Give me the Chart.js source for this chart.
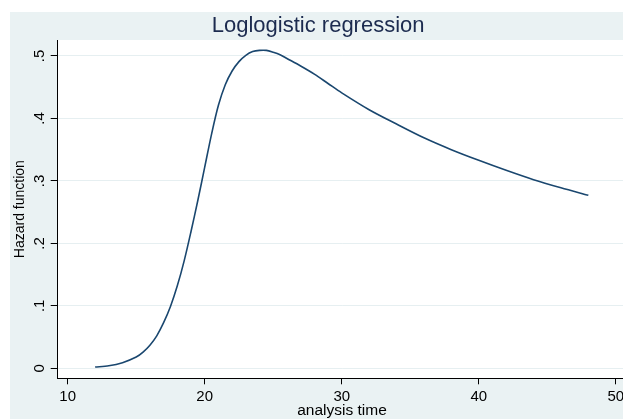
<!DOCTYPE html>
<html>
<head>
<meta charset="utf-8">
<script src="https://cdn.jsdelivr.net/npm/chart.js@4.4.1/dist/chart.umd.min.js"></script>
<style>
  html, body { margin: 0; padding: 0; background: #ffffff; width: 623px; height: 420px; overflow: hidden; }
  #wrap { position: absolute; left: 10px; top: 12px; width: 664px; height: 407px; background: #EAF2F3; }
  canvas { display: block; }
</style>
</head>
<body>
<div id="wrap"><canvas id="c" width="664" height="407"></canvas></div>
<script>
// analysis time (x) and hazard function (y)
const times = [12, 13, 14, 15, 15.5, 16, 16.5, 17, 17.5, 18, 18.5, 19, 19.5, 20, 20.5, 21, 21.5, 22, 22.5, 23, 23.5, 24, 24.5, 25, 25.5, 26, 27, 28, 29, 30, 32, 34, 36, 38, 40, 42, 44, 46, 48];
const hazard = [0.002, 0.004, 0.009, 0.018, 0.026, 0.037, 0.052, 0.073, 0.099, 0.132, 0.172, 0.219, 0.269, 0.322, 0.375, 0.421, 0.454, 0.476, 0.491, 0.501, 0.507, 0.509, 0.509, 0.506, 0.502, 0.496, 0.484, 0.471, 0.456, 0.441, 0.414, 0.391, 0.369, 0.350, 0.333, 0.317, 0.302, 0.289, 0.277];
const xTicks = [10, 20, 30, 40, 50];
const yTicks = [0, 0.1, 0.2, 0.3, 0.4, 0.5];
const yTickLabels = ['0', '.1', '.2', '.3', '.4', '.5'];

const FONT = '"Liberation Sans", Arial, Helvetica, sans-serif';

const plotBg = {
  id: 'plotBg',
  beforeDraw(chart) {
    const a = chart.chartArea, ctx = chart.ctx;
    ctx.save();
    ctx.fillStyle = '#ffffff';
    ctx.fillRect(a.left, a.top, a.right - a.left, a.bottom - a.top);
    ctx.restore();
  }
};

new Chart(document.getElementById('c'), {
  type: 'line',
  data: {
    datasets: [{
      data: times.map((t, i) => ({ x: t, y: hazard[i] })),
      borderColor: '#1A476F',
      borderWidth: 1.6,
      pointRadius: 0,
      fill: false,
      tension: 0.3
    }]
  },
  options: {
    responsive: false,
    animation: false,
    devicePixelRatio: 1,
    layout: { padding: { left: 0, right: 47.7, top: 0, bottom: 0 } },
    plugins: {
      legend: { display: false },
      tooltip: { enabled: false },
      title: {
        display: true,
        text: 'Loglogistic regression',
        color: '#1c2b4f',
        font: { family: FONT, size: 22, weight: 'normal', lineHeight: 1.2 },
        padding: { top: 0.8, bottom: 0.8 }
      }
    },
    scales: {
      x: {
        type: 'linear',
        min: 9.27,
        max: 50.77,
        afterBuildTicks: s => { s.ticks = xTicks.map(v => ({ value: v })); },
        afterFit: s => { s.height = 40.7; },
        border: { display: true, color: '#000000', width: 1 },
        grid: { drawOnChartArea: false, drawTicks: true, tickLength: 6, tickColor: '#000000', lineWidth: 1 },
        ticks: {
          color: '#000000',
          font: { family: FONT, size: 15 },
          padding: 4,
          maxRotation: 0,
          minRotation: 0
        },
        title: {
          display: true,
          text: 'analysis time',
          color: '#000000',
          font: { family: FONT, size: 15.5, lineHeight: 1.1 },
          padding: { top: 0, bottom: 0 }
        }
      },
      y: {
        type: 'linear',
        min: -0.016,
        max: 0.5256,
        afterBuildTicks: s => { s.ticks = yTicks.map(v => ({ value: v })); },
        afterFit: s => { s.width = 47.7; },
        border: { display: true, color: '#000000', width: 1 },
        grid: { color: '#E6EFF1', lineWidth: 1, drawTicks: true, tickLength: 7, tickColor: '#000000' },
        ticks: {
          color: '#000000',
          font: { family: FONT, size: 15 },
          padding: 5,
          minRotation: 90,
          maxRotation: 90,
          crossAlign: 'center',
          callback: (v) => { const i = yTicks.indexOf(v); return i >= 0 ? yTickLabels[i] : ''; }
        },
        title: {
          display: true,
          text: 'Hazard function',
          color: '#000000',
          font: { family: FONT, size: 14, lineHeight: 1.2 },
          padding: { top: 1.6, bottom: 0 }
        }
      }
    }
  },
  plugins: [plotBg]
});
</script>
</body>
</html>
